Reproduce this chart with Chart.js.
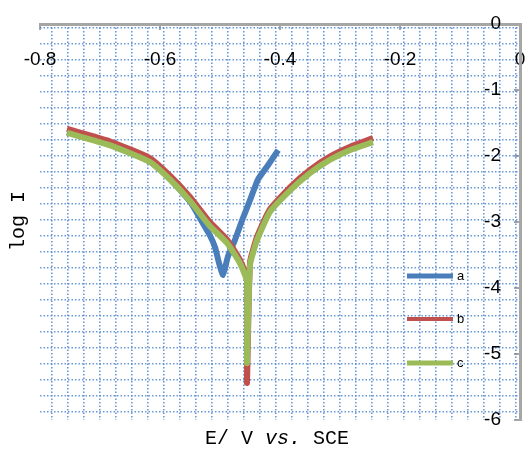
<!DOCTYPE html>
<html lang="en">
  <head>
    <meta charset="utf-8" />
    <title>Tafel plot</title>
    <script src="https://cdn.jsdelivr.net/npm/chart.js"></script>
    <style>
      html, body { margin: 0; padding: 0; background: #fff; }
      #wrap { width: 527px; height: 449px; position: relative; }
    </style>
  </head>
  <body>
    <div id="wrap"><canvas id="myChart"></canvas></div>

    <script>
      // curve a (blue)
      var potA = [-0.755, -0.683, -0.617, -0.583, -0.55, -0.533, -0.517, -0.508, -0.502, -0.495,
                  -0.487, -0.475, -0.463, -0.45, -0.437, -0.42, -0.403];
      var logA = [-1.64, -1.83, -2.08, -2.35, -2.69, -2.95, -3.20, -3.39, -3.61, -3.80,
                  -3.53, -3.27, -2.97, -2.67, -2.36, -2.14, -1.91];

      // curve b (red)
      var potB = [-0.755, -0.683, -0.617, -0.583, -0.55, -0.517, -0.488, -0.467, -0.455, -0.455,
                  -0.45, -0.438, -0.417, -0.383, -0.35, -0.317, -0.283, -0.245];
      var logB = [-1.59, -1.78, -2.03, -2.30, -2.62, -3.00, -3.27, -3.57, -3.86, -5.44,
                  -3.61, -3.22, -2.81, -2.47, -2.21, -2.01, -1.86, -1.73];

      // curve c (green)
      var potC = [-0.755, -0.683, -0.617, -0.583, -0.55, -0.517, -0.488, -0.467, -0.455, -0.455,
                  -0.45, -0.438, -0.417, -0.383, -0.35, -0.317, -0.283, -0.245];
      var logC = [-1.65, -1.84, -2.09, -2.36, -2.68, -3.06, -3.32, -3.62, -3.90, -5.14,
                  -3.65, -3.27, -2.85, -2.52, -2.26, -2.06, -1.91, -1.79];

      var seriesNames = ["a", "b", "c"];
      var seriesColors = ["#4a7ebb", "#c0504d", "#9bbb59"];
      var xTicks = [-0.8, -0.6, -0.4, -0.2, 0];
      var yTicks = [0, -1, -2, -3, -4, -5, -6];

      let toPoints = (xs, ys) => xs.map((x, i) => ({ x: x, y: ys[i] }));

      // dotted background mesh, every 16 px
      let gridStepTicks = (start, count) => {
        let out = [];
        for (let i = 0; i < count; i++) out.push({ value: start + 16 * i });
        return out;
      };

      let noPad = (s) => {
        s.paddingLeft = 0;
        s.paddingRight = 0;
        s.paddingTop = 0;
        s.paddingBottom = 0;
      };

      const dotGrid = {
        display: true,
        drawOnChartArea: true,
        drawTicks: false,
        color: "rgba(79,135,210,0.85)",
        lineWidth: 1.6,
      };

      const legendPlugin = {
        id: "sideLegend",
        afterDatasetsDraw(chart) {
          const ctx = chart.ctx;
          const rows = [276, 319, 363];
          const widths = [5, 4, 5];
          ctx.save();
          rows.forEach((y, i) => {
            ctx.strokeStyle = seriesColors[i];
            ctx.lineWidth = widths[i];
            ctx.beginPath();
            ctx.moveTo(407, y);
            ctx.lineTo(453, y);
            ctx.stroke();
            ctx.fillStyle = "#000";
            ctx.font = "13px 'Liberation Sans'";
            ctx.textBaseline = "middle";
            ctx.fillText(seriesNames[i], 457, y);
          });
          ctx.restore();
        },
      };

      const titlePlugin = {
        id: "axisTitles",
        afterDraw(chart) {
          const ctx = chart.ctx;
          ctx.save();
          ctx.fillStyle = "#000";
          ctx.textBaseline = "alphabetic";
          // x title with italic "vs."
          const parts = [
            ["E/ V ", "20px 'Liberation Mono'"],
            ["vs.", "italic 20px 'Liberation Mono'"],
            [" SCE", "20px 'Liberation Mono'"],
          ];
          let total = 0;
          parts.forEach((p) => { ctx.font = p[1]; total += ctx.measureText(p[0]).width; });
          let x = 277 - total / 2;
          parts.forEach((p) => {
            ctx.font = p[1];
            ctx.fillText(p[0], x, 444);
            x += ctx.measureText(p[0]).width;
          });
          // y title
          ctx.translate(19, 221);
          ctx.rotate(-Math.PI / 2);
          ctx.font = "20px 'Liberation Mono'";
          ctx.textAlign = "center";
          ctx.textBaseline = "middle";
          ctx.fillText("log I", 0, 0);
          ctx.restore();
        },
      };

      let showChart = () => {
        new Chart(document.getElementById("myChart"), {
          type: "scatter",
          data: {
            datasets: [
              { label: seriesNames[0], data: toPoints(potA, logA), borderColor: seriesColors[0], order: 3 },
              { label: seriesNames[1], data: toPoints(potB, logB), borderColor: seriesColors[1], order: 2 },
              { label: seriesNames[2], data: toPoints(potC, logC), borderColor: seriesColors[2], order: 1 },
            ].map((d) => Object.assign(d, {
              xAxisID: "x",
              yAxisID: "y",
              showLine: true,
              borderWidth: 6,
              pointRadius: 0,
              tension: 0.15,
              fill: false,
              borderJoinStyle: "round",
            })),
          },
          options: {
            responsive: true,
            maintainAspectRatio: false,
            animation: false,
            layout: { padding: { left: 40, top: 0, right: 0, bottom: 29 } },
            plugins: { legend: { display: false }, tooltip: { enabled: false } },
            scales: {
              x: {
                type: "linear", position: "top", min: -0.8, max: 0,
                grid: { drawOnChartArea: false, drawTicks: true, tickLength: -6, color: "#a6a6a6", lineWidth: 2 },
                border: { display: true, color: "#a6a6a6", width: 3 },
                ticks: {
                  mirror: true, padding: 24, color: "#000",
                  font: { family: "'Liberation Sans'", size: 19 },
                  callback: (v) => v,
                },
                afterBuildTicks: (s) => { s.ticks = xTicks.map((v) => ({ value: v })); },
                afterFit: (s) => { s.height = 24; noPad(s); },
              },
              y: {
                type: "linear", position: "right", min: -6, max: 0,
                grid: { drawOnChartArea: false, drawTicks: true, tickLength: -6, color: "#a6a6a6", lineWidth: 2 },
                border: { display: true, color: "#a6a6a6", width: 3 },
                ticks: {
                  mirror: true, padding: -19, color: "#000",
                  font: { family: "'Liberation Sans'", size: 19 },
                  callback: (v) => v,
                },
                afterBuildTicks: (s) => { s.ticks = yTicks.map((v) => ({ value: v })); },
                afterFit: (s) => { s.width = 7; noPad(s); },
              },
              gx: {
                type: "linear", position: "bottom", min: 0, max: 480,
                grid: Object.assign({}, dotGrid),
                border: { display: false, dash: [1.5, 2] },
                ticks: { display: false },
                afterBuildTicks: (s) => { s.ticks = gridStepTicks(12, 30); },
                afterFit: (s) => { s.height = 0; noPad(s); },
              },
              gy: {
                type: "linear", position: "left", min: 0, max: 396, reverse: true,
                grid: Object.assign({}, dotGrid),
                border: { display: false, dash: [1.5, 2] },
                ticks: { display: false },
                afterBuildTicks: (s) => { s.ticks = gridStepTicks(4, 25); },
                afterFit: (s) => { s.width = 0; noPad(s); },
              },
            },
          },
          plugins: [legendPlugin, titlePlugin],
        });
      };

      showChart();
    </script>
  </body>
</html>
